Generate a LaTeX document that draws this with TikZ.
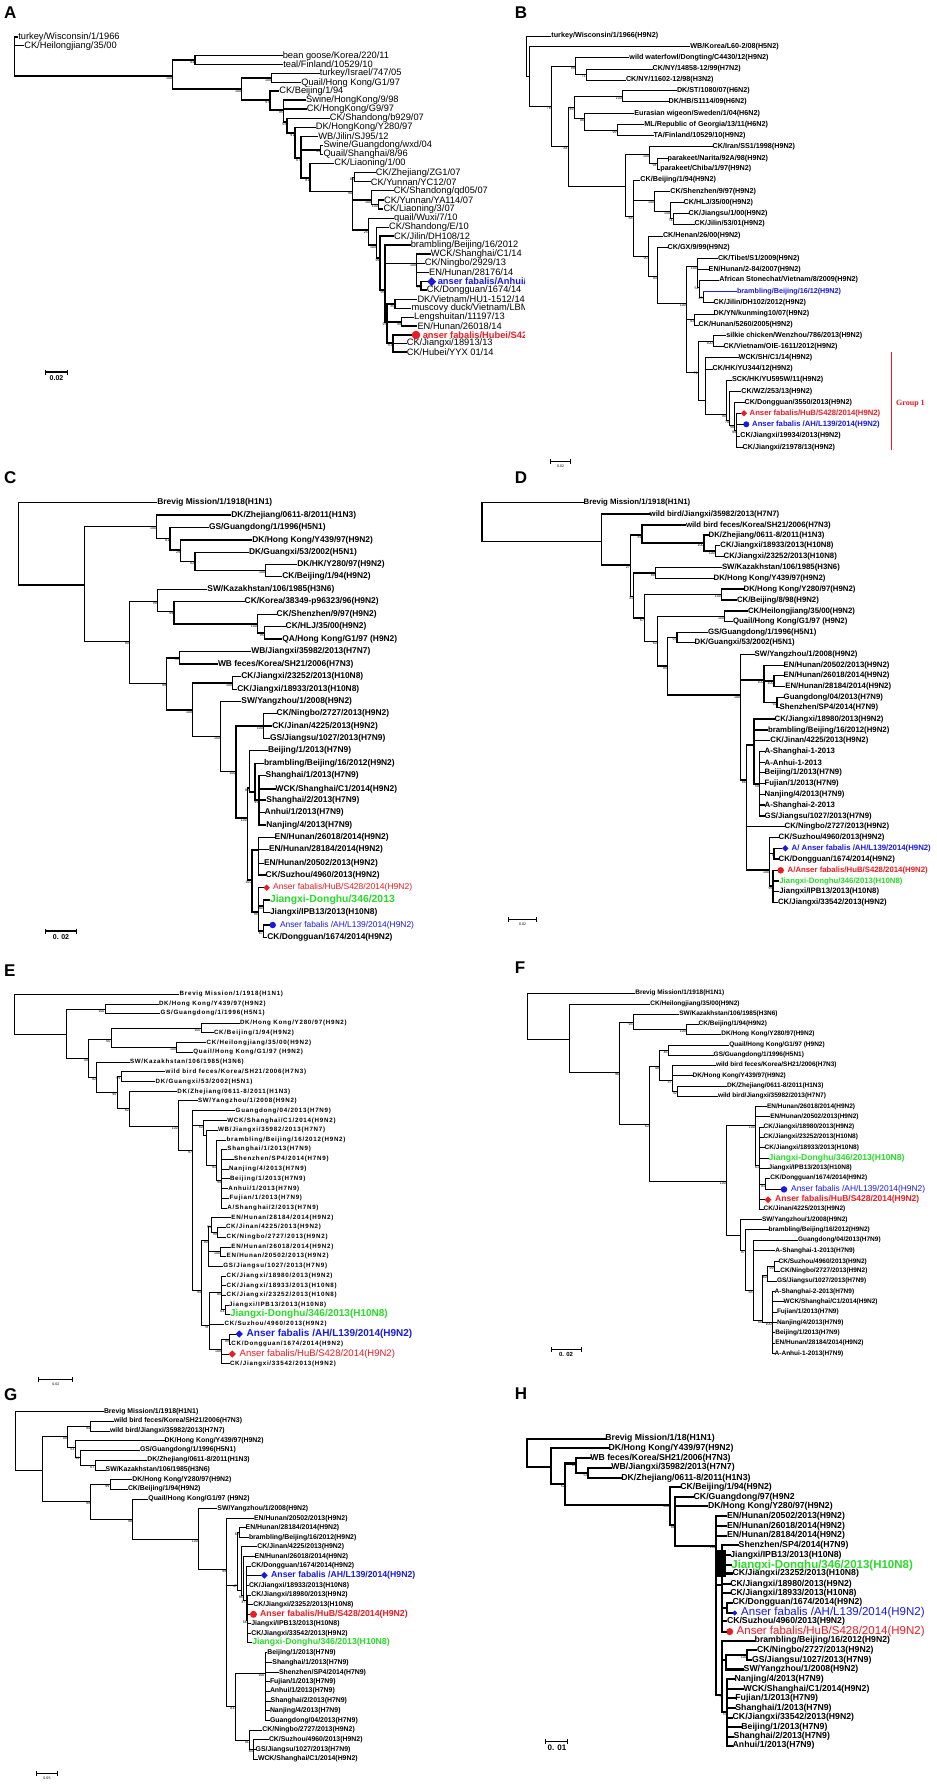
\documentclass[tikz,border=0pt]{standalone}
\usepackage{fontspec}
\setmainfont{Liberation Sans}
\newfontfamily\serifb{Liberation Serif}
\newfontfamily\spaced[LetterSpace=12]{Liberation Sans}
\usetikzlibrary{shapes.geometric,arrows.meta}
\definecolor{redA}{RGB}{236,28,36}
\definecolor{greenA}{RGB}{40,220,40}
\definecolor{blueA}{RGB}{26,26,230}
\newcommand\fs[1]{\fontsize{#1}{#1}\selectfont}
\newcommand\In[5]{\coordinate (#2) at (#3,#4); \draw[br] (#1) |- (#2); \node[bs] at (#2) {#5};}
\newcommand\Lf[6][]{\node[lab,#1] (#3) at (#4,#5) {#6}; \draw[br] (#2) |- (#3.west);}
\newcommand\Mk[8]{\node[#5] (#2m) at (#3,#4) {}; \node[lab,#7] (#2) at (#8,#4) {#6}; \draw[br] (#1) |- (#2m.west);}
\tikzset{
  bs/.style={font=\fs{3.6}, anchor=north east, inner sep=0.3pt},
  ttl/.style={font=\fs{17}\bfseries, anchor=north west, inner sep=0pt},
  mdia/.style={diamond, fill=#1, inner sep=0pt},
  mcirc/.style={circle, fill=#1, inner sep=0pt},
  sbar/.style={line width=1.1pt, {Bar[width=5pt,line width=1.1pt]}-{Bar[width=5pt,line width=1.1pt]}},
}
\begin{document}
\begin{tikzpicture}[x=1pt,y=-1pt]
\useasboundingbox (0,0) rectangle (937,1786);
\fill[white] (0,0) rectangle (937,1786);

% ================= A =================
\node[ttl] (labA) at (4,6.7) {A};
\begin{scope}[br/.style={line width=1.4pt, line cap=rect}, lab/.style={anchor=west, inner sep=0pt, inner xsep=0.6pt, font=\fs{9.3}}]
\clip (0,0) rectangle (524,365);
\coordinate (a0) at (14.3,56);
\Lf{a0}{aL1}{17.5}{37}{turkey/Wisconsin/1/1966}
\Lf{a0}{aL2}{23.5}{45.7}{CK/Heilongjiang/35/00}
\In{a0}{a1}{172.7}{76}{100}
\In{a1}{a2}{195}{60}{84}
\Lf{a2}{aL3}{282}{55.7}{bean goose/Korea/220/11}
\Lf{a2}{aL4}{282.5}{64.3}{teal/Finland/10529/10}
\In{a1}{a3}{241.7}{89}{100}
\In{a3}{a4}{271.7}{78}{100}
\Lf{a4}{aL5}{319}{73.3}{turkey/Israel/747/05}
\Lf{a4}{aL6}{300.5}{82.7}{Quail/Hong Kong/G1/97}
\In{a3}{a5}{270}{100}{97}
\Lf{a5}{aL7}{278.5}{91}{CK/Beijing/1/94}
\In{a5}{a6}{283.3}{110}{95}
\Lf{a6}{aL8}{305.3}{100}{Swine/HongKong/9/98}
\Lf{a6}{aL9}{306}{109}{CK/HongKong/G9/97}
\In{a6}{a7}{287}{122}{56}
\Lf{a7}{aL10}{329}{118.3}{CK/Shandong/b929/07}
\In{a7}{a8}{295}{133}{91}
\Lf{a8}{aL11}{315}{127.3}{DK/HongKong/Y280/97}
\In{a8}{a9}{301}{158}{67}
\Lf{a9}{aL12}{317.5}{136.3}{WB/Jilin/SJ95/12}
\In{a9}{a10}{320.7}{149.8}{99}
\Lf{a10}{aL13}{322.7}{145.3}{Swine/Guangdong/wxd/04}
\Lf{a10}{aL14}{322.7}{154.3}{Quail/Shanghai/8/96}
\In{a9}{a11}{310}{178}{81}
\Lf{a11}{aL15}{333.5}{163.3}{CK/Liaoning/1/00}
\In{a11}{a12}{352.7}{191.7}{90}
\In{a12}{a13}{354.5}{177.2}{85}
\Lf{a13}{aL16}{375}{172.7}{CK/Zhejiang/ZG1/07}
\Lf{a13}{aL17}{370}{181.7}{CK/Yunnan/YC12/07}
\In{a12}{a14}{371.7}{200}{100}
\Lf{a14}{aL18}{393}{190.7}{CK/Shandong/qd05/07}
\In{a14}{a15}{378.3}{204.5}{100}
\Lf{a15}{aL19}{383.3}{200}{CK/Yunnan/YA114/07}
\Lf{a15}{aL20}{382.7}{209}{CK/Liaoning/3/07}
\In{a12}{a16}{368.3}{230}{25}
\Lf{a16}{aL21}{393.3}{218.3}{quail/Wuxi/7/10}
\In{a16}{a17}{376.7}{245}{100}
\Lf{a17}{aL22}{388.3}{227.3}{CK/Shandong/E/10}
\In{a17}{a18}{380}{258}{99}
\Lf{a18}{aL23}{393.3}{236}{CK/Jilin/DH108/12}
\In{a18}{a19}{385}{290}{95}
\Lf{a19}{aL24}{410}{245}{brambling/Beijing/16/2012}
\In{a19}{a20}{416.7}{263.3}{100}
\Lf{a20}{aL25}{430}{254}{WCK/Shanghai/C1/14}
\Lf{a20}{aL26}{424}{263.3}{CK/Ningbo/2929/13}
\Lf{a20}{aL27}{428.3}{272.3}{EN/Hunan/28176/14}
\In{a20}{a21}{421}{286}{75}
\Mk{a21}{aL28}{431.7}{281.7}{mdia=blueA, minimum size=9pt}{anser fabalis/Anhui/L139/14}{text=blueA,font=\fs{9.3}\bfseries}{437}
\Lf{a21}{aL29}{426}{290}{CK/Dongguan/1674/14}
\In{a19}{a22}{387}{322}{97}
\In{a22}{a23}{395}{304}{85}
\Lf{a23}{aL30}{416.7}{299.3}{DK/Vietnam/HU1-1512/14}
\Lf{a23}{aL31}{410.7}{308.3}{muscovy duck/Vietnam/LBM113/14}
\In{a22}{a24}{401.7}{322}{99}
\Lf{a24}{aL32}{413.3}{317.3}{Lengshuitan/11197/13}
\Lf{a24}{aL33}{416.7}{326}{EN/Hunan/26018/14}
\In{a22}{a25}{393}{343}{61}
\Mk{a25}{aL34}{416}{335}{mcirc=redA, minimum size=8.5pt}{anser fabalis/Hubei/S428/14}{text=redA,font=\fs{9.3}\bfseries}{422}
\Lf{a25}{aL35}{406}{343.3}{CK/Jiangxi/18913/13}
\Lf{a25}{aL36}{406}{352}{CK/Hubei/YYX 01/14}
\end{scope}
\coordinate (sbA1) at (45,372); \coordinate (sbA2) at (68,372);
\draw[sbar] (sbA1) -- (sbA2);
\node[font=\fs{7}\bfseries, anchor=north, inner sep=0.5pt] (sbAt) at (56.5,375) {0.02};

% ================= B =================
\node[ttl] (labB) at (514.7,6.7) {B};
\begin{scope}[br/.style={line width=1pt, line cap=rect}, lab/.style={anchor=west, inner sep=0pt, inner xsep=0.5pt, font=\fs{7.2}\bfseries}]
\coordinate (b0) at (526.3,56);
\Lf{b0}{bL1}{550.7}{36}{turkey/Wisconsin/1/1966(H9N2)}
\In{b0}{b1}{529}{76.7}{}
\Lf{b1}{bL2}{689.7}{46.7}{WB/Korea/L60-2/08(H5N2)}
\In{b1}{b2}{551.3}{106.7}{78}
\In{b2}{b3}{575.3}{66}{99}
\Lf{b3}{bL3}{628.7}{57.7}{wild waterfowl/Dongting/C4430/12(H9N2)}
\In{b3}{b4}{586.3}{74.5}{71}
\Lf{b4}{bL4}{652}{69}{CK/NY/14858-12/99(H7N2)}
\Lf{b4}{bL5}{625.3}{80}{CK/NY/11602-12/98(H3N2)}
\In{b2}{b5}{568}{146.7}{84}
\In{b5}{b6}{574}{107.5}{49}
\In{b6}{b7}{622.3}{96.2}{100}
\Lf{b7}{bL6}{676.3}{90.7}{DK/ST/1080/07(H6N2)}
\Lf{b7}{bL7}{668}{101.7}{DK/HB/S1114/09(H6N2)}
\In{b6}{b8}{584.7}{118.3}{86}
\Lf{b8}{bL8}{633.7}{113.3}{Eurasian wigeon/Sweden/1/04(H6N2)}
\In{b8}{b9}{617}{130}{99}
\Lf{b9}{bL9}{643.7}{124.3}{ML/Republic of Georgia/13/11(H6N2)}
\Lf{b9}{bL10}{653}{135.7}{TA/Finland/10529/10(H9N2)}
\In{b5}{b10}{625.3}{186}{}
\In{b10}{b11}{649.7}{154.3}{100}
\Lf{b11}{bL11}{712}{146.7}{CK/Iran/SS1/1998(H9N2)}
\In{b11}{b12}{657}{163.6}{94}
\Lf{b12}{bL12}{667}{158.3}{parakeet/Narita/92A/98(H9N2)}
\Lf{b12}{bL13}{659.7}{169}{parakeet/Chiba/1/97(H9N2)}
\In{b10}{b13}{633}{216.7}{88}
\Lf{b13}{bL14}{639.7}{180}{CK/Beijing/1/94(H9N2)}
\In{b13}{b14}{654.7}{200.7}{100}
\Lf{b14}{bL15}{669.7}{191.7}{CK/Shenzhen/9/97(H9N2)}
\In{b14}{b15}{670.7}{211.7}{100}
\Lf{b15}{bL16}{683}{202.3}{CK/HLJ/35/00(H9N2)}
\In{b15}{b16}{673}{218.7}{74}
\Lf{b16}{bL17}{688}{213.3}{CK/Jiangsu/1/00(H9N2)}
\Lf{b16}{bL18}{694}{224}{CK/Jilin/53/01(H9N2)}
\In{b13}{b17}{648}{256}{90}
\Lf{b17}{bL19}{662.3}{236}{CK/Henan/26/00(H9N2)}
\In{b17}{b18}{657.3}{276}{94}
\Lf{b18}{bL20}{667}{247.3}{CK/GX/9/99(H9N2)}
\In{b18}{b19}{686.3}{303.3}{100}
\In{b19}{b20}{697.3}{266}{100}
\Lf{b20}{bL21}{717.3}{258.3}{CK/Tibet/S1/2009(H9N2)}
\Lf{b20}{bL22}{708}{269.3}{EN/Hunan/2-84/2007(H9N2)}
\In{b20}{b21}{699}{287}{51}
\Lf{b21}{bL23}{718.7}{280}{African Stonechat/Vietnam/8/2009(H9N2)}
\In{b21}{b22}{703}{297}{45}
\Lf[text=blueA]{b22}{bL24}{736.3}{291.7}{brambling/Beijing/16/12(H9N2)}
\draw[br,blueA] (b22 |- bL24.west) -- (bL24.west);
\Lf{b22}{bL25}{713}{302.3}{CK/Jilin/DH102/2012(H9N2)}
\In{b19}{b23}{694.7}{319.5}{93}
\Lf{b23}{bL26}{713}{314}{DK/YN/kunming10/07(H9N2)}
\Lf{b23}{bL27}{698}{325}{CK/Hunan/5260/2005(H9N2)}
\In{b19}{b24}{698}{372}{71}
\In{b24}{b25}{713}{341.2}{100}
\Lf{b25}{bL28}{725.7}{335.7}{silkie chicken/Wenzhou/786/2013(H9N2)}
\Lf{b25}{bL29}{723}{346.7}{CK/Vietnam/OIE-1611/2012(H9N2)}
\In{b24}{b26}{705}{400}{}
\Lf{b26}{bL30}{738}{357.7}{WCK/SH/C1/14(H9N2)}
\Lf{b26}{bL31}{712}{369}{CK/HK/YU344/12(H9N2)}
\In{b26}{b27}{726.3}{414}{90}
\Lf{b27}{bL32}{731.3}{380}{SCK/HK/YU595W/11(H9N2)}
\In{b27}{b28}{729.7}{420}{70}
\Lf{b28}{bL33}{740.7}{391.7}{CK/WZ/253/13(H9N2)}
\In{b28}{b29}{734.7}{425}{98}
\Lf{b29}{bL34}{744}{402.3}{CK/Dongguan/3550/2013(H9N2)}
\In{b29}{b30}{736.5}{430}{99}
\Mk{b30}{bL35}{744}{413.3}{mdia=redA, minimum size=6.5pt}{Anser fabalis/HuB/S428/2014(H9N2)}{text=redA,font=\fs{7.7}\bfseries}{749}
\Mk{b30}{bL36}{746.3}{424.3}{mcirc=blueA, minimum size=6pt}{Anser fabalis /AH/L139/2014(H9N2)}{text=blueA,font=\fs{7.7}\bfseries}{751.5}
\Lf{b30}{bL37}{739.7}{436}{CK/Jiangxi/19934/2013(H9N2)}
\Lf{b30}{bL38}{742}{447.3}{CK/Jiangxi/21978/13(H9N2)}
\end{scope}
\coordinate (grpA) at (891.3,352); \coordinate (grpB) at (891.3,450);
\draw[redA, line width=1pt] (grpA) -- (grpB);
\node[font=\serifb\fs{8}\bfseries, text=redA, anchor=west, inner sep=0pt] (grpT) at (896,403.3) {Group 1};
\coordinate (sbB1) at (549.7,461.7); \coordinate (sbB2) at (571.3,461.7);
\draw[sbar, line width=0.8pt] (sbB1) -- (sbB2);
\node[font=\fs{3.6}, anchor=north, inner sep=0.5pt] (sbBt) at (560.5,464.5) {0.02};

% ================= C =================
\node[ttl] (labC) at (4,471.7) {C};
\begin{scope}[br/.style={line width=1.3pt, line cap=rect}, lab/.style={anchor=west, inner sep=0pt, inner xsep=0.5pt, font=\fs{8.4}\bfseries}]
\coordinate (c0) at (18.3,540);
\Lf{c0}{cL1}{156.7}{502.7}{Brevig Mission/1/1918(H1N1)}
\In{c0}{c1}{84.3}{585}{}
\In{c1}{c2}{156.7}{526.7}{100}
\Lf{c2}{cL2}{230.7}{515}{DK/Zhejiang/0611-8/2011(H1N3)}
\In{c2}{c3}{170}{538.3}{61}
\Lf{c3}{cL3}{208.3}{527.3}{GS/Guangdong/1/1996(H5N1)}
\In{c3}{c4}{180.7}{550}{29}
\Lf{c4}{cL4}{251.7}{540}{DK/Hong Kong/Y439/97(H9N2)}
\In{c4}{c5}{195}{561.7}{62}
\Lf{c5}{cL5}{248.3}{552.3}{DK/Guangxi/53/2002(H5N1)}
\In{c5}{c6}{265.7}{570.5}{100}
\Lf{c6}{cL6}{296.7}{564.3}{DK/HK/Y280/97(H9N2)}
\Lf{c6}{cL7}{281.7}{576.7}{CK/Beijing/1/94(H9N2)}
\In{c1}{c7}{129.3}{641.7}{90}
\In{c7}{c8}{157.3}{601.7}{99}
\Lf{c8}{cL8}{206.7}{589.3}{SW/Kazakhstan/106/1985(H3N6)}
\In{c8}{c9}{174}{611.7}{99}
\Lf{c9}{cL9}{244}{601.7}{CK/Korea/38349-p96323/96(H9N2)}
\In{c9}{c10}{257.3}{624}{100}
\Lf{c10}{cL10}{276}{614.3}{CK/Shenzhen/9/97(H9N2)}
\In{c10}{c11}{264.3}{633}{95}
\Lf{c11}{cL11}{285}{626.7}{CK/HLJ/35/00(H9N2)}
\Lf{c11}{cL12}{281.7}{639}{QA/Hong Kong/G1/97 (H9N2)}
\In{c7}{c12}{166.7}{683.3}{99}
\In{c12}{c13}{179.3}{658}{55}
\Lf{c13}{cL13}{250.7}{651.7}{WB/Jiangxi/35982/2013(H7N7)}
\Lf{c13}{cL14}{217.3}{664}{WB feces/Korea/SH21/2006(H7N3)}
\In{c12}{c14}{192.7}{710}{100}
\In{c14}{c15}{232.7}{683}{100}
\Lf{c15}{cL15}{240.7}{676.7}{CK/Jiangxi/23252/2013(H10N8)}
\Lf{c15}{cL16}{236.7}{689.3}{CK/Jiangxi/18933/2013(H10N8)}
\In{c14}{c16}{220.7}{736.7}{100}
\Lf{c16}{cL17}{240.7}{701.7}{SW/Yangzhou/1/2008(H9N2)}
\In{c16}{c17}{236}{771.7}{100}
\In{c17}{c18}{263.3}{726}{100}
\Lf{c18}{cL18}{276}{713.3}{CK/Ningbo/2727/2013(H9N2)}
\Lf{c18}{cL19}{271.7}{726}{CK/Jinan/4225/2013(H9N2)}
\Lf{c18}{cL20}{269.3}{738.3}{GS/Jiangsu/1027/2013(H7N9)}
\In{c17}{c19}{247.3}{818}{100}
\In{c19}{c20}{249.3}{788}{90}
\Lf{c20}{cL21}{267.3}{750.7}{Beijing/1/2013(H7N9)}
\In{c20}{c21}{255}{792}{}
\Lf{c21}{cL22}{263.3}{763.3}{brambling/Beijing/16/2012(H9N2)}
\In{c21}{c22}{259}{800}{99}
\Lf{c22}{cL23}{265}{775.7}{Shanghai/1/2013(H7N9)}
\Lf{c22}{cL24}{275}{789}{WCK/Shanghai/C1/2014(H9N2)}
\Lf{c22}{cL25}{265.7}{800}{Shanghai/2/2013(H7N9)}
\Lf{c22}{cL26}{264}{812.3}{Anhui/1/2013(H7N9)}
\Lf{c22}{cL27}{265.7}{825}{Nanjing/4/2013(H7N9)}
\In{c19}{c23}{252}{880}{100}
\In{c23}{c24}{258.3}{850}{}
\Lf{c24}{cL28}{274}{837.3}{EN/Hunan/26018/2014(H9N2)}
\Lf{c24}{cL29}{268.3}{849.3}{EN/Hunan/28184/2014(H9N2)}
\Lf{c24}{cL30}{263.3}{863.3}{EN/Hunan/20502/2013(H9N2)}
\Lf{c24}{cL31}{265}{875}{CK/Suzhou/4960/2013(H9N2)}
\In{c23}{c25}{258.3}{912}{95}
\Mk{c25}{cL32}{266.7}{887.7}{mdia=redA, minimum size=6.5pt}{Anser fabalis/HuB/S428/2014(H9N2)}{text=redA,font=\fs{8.5}}{272.5}
\In{c25}{c26}{263.3}{906}{80}
\Lf[text=greenA,font=\fs{10.4}\bfseries]{c26}{cL33}{269.3}{900}{Jiangxi-Donghu/346/2013}
\Lf{c26}{cL34}{269.3}{912.3}{Jiangxi/IPB13/2013(H10N8)}
\In{c25}{c27}{263.3}{931}{67}
\Mk{c27}{cL35}{272.7}{925}{mcirc=blueA, minimum size=6.5pt}{Anser fabalis /AH/L139/2014(H9N2)}{text=blueA,font=\fs{8.4}}{279.3}
\Lf{c27}{cL36}{266.7}{937.7}{CK/Dongguan/1674/2014(H9N2)}
\end{scope}
\coordinate (sbC1) at (45,931); \coordinate (sbC2) at (76.7,931);
\draw[sbar] (sbC1) -- (sbC2);
\node[font=\fs{7}\bfseries, anchor=north, inner sep=0.5pt] (sbCt) at (61,934) {0. 02};

% ================= D =================
\node[ttl] (labD) at (514.7,471.7) {D};
\begin{scope}[br/.style={line width=1.2pt, line cap=rect}, lab/.style={anchor=west, inner sep=0pt, inner xsep=0.5pt, font=\fs{7.8}\bfseries}]
\coordinate (d0) at (482,520);
\Lf{d0}{dL1}{583}{502.7}{Brevig Mission/1/1918(H1N1)}
\In{d0}{d1}{601.3}{541.7}{}
\Lf{d1}{dL2}{649}{514}{wild bird/Jiangxi/35982/2013(H7N7)}
\In{d1}{d2}{630.3}{565}{27}
\In{d2}{d3}{642}{535}{81}
\Lf{d3}{dL3}{685.3}{525}{wild bird feces/Korea/SH21/2006(H7N3)}
\In{d3}{d4}{704}{543}{100}
\Lf{d4}{dL4}{708}{535}{DK/Zhejiang/0611-8/2011(H1N3)}
\In{d4}{d5}{715.3}{551}{100}
\Lf{d5}{dL5}{719.7}{545.7}{CK/Jiangxi/18933/2013(H10N8)}
\Lf{d5}{dL6}{723}{556.7}{CK/Jiangxi/23252/2013(H10N8)}
\In{d2}{d6}{633.7}{596.7}{31}
\In{d6}{d7}{655.3}{573}{89}
\Lf{d7}{dL7}{721.3}{567.3}{SW/Kazakhstan/106/1985(H3N6)}
\Lf{d7}{dL8}{713}{578.3}{DK/Hong Kong/Y439/97(H9N2)}
\In{d6}{d8}{644.7}{618}{67}
\In{d8}{d9}{721.3}{594.5}{100}
\Lf{d9}{dL9}{743}{589}{DK/Hong Kong/Y280/97(H9N2)}
\Lf{d9}{dL10}{736.3}{600}{CK/Beijing/8/98(H9N2)}
\In{d8}{d10}{657.3}{641.7}{60}
\In{d10}{d11}{724.7}{616.3}{100}
\Lf{d11}{dL11}{747.3}{611}{CK/Heilongjiang/35/00(H9N2)}
\Lf{d11}{dL12}{732.3}{621.7}{Quail/Hong Kong/G1/97 (H9N2)}
\In{d10}{d12}{667.3}{666}{94}
\In{d12}{d13}{677}{637.5}{97}
\Lf{d13}{dL13}{707.3}{632.3}{GS/Guangdong/1/1996(H5N1)}
\Lf{d13}{dL14}{694}{642.7}{DK/Guangxi/53/2002(H5N1)}
\In{d12}{d14}{740.7}{695}{100}
\Lf{d14}{dL15}{754}{654.3}{SW/Yangzhou/1/2008(H9N2)}
\In{d14}{d15}{764}{680}{100}
\Lf{d15}{dL16}{783}{665.3}{EN/Hunan/20502/2013(H9N2)}
\In{d15}{d16}{774}{681}{100}
\Lf{d16}{dL17}{783}{675.7}{EN/Hunan/26018/2014(H9N2)}
\Lf{d16}{dL18}{784.7}{686.7}{EN/Hunan/28184/2014(H9N2)}
\In{d15}{d17}{777}{702.5}{92}
\Lf{d17}{dL19}{783}{697.3}{Guangdong/04/2013(H7N9)}
\Lf{d17}{dL20}{779}{707.7}{Shenzhen/SP4/2014(H7N9)}
\In{d14}{d18}{746.3}{780}{86}
\In{d18}{d19}{754}{745}{}
\Lf{d19}{dL21}{774}{719}{CK/Jiangxi/18980/2013(H9N2)}
\Lf{d19}{dL22}{767.3}{730}{brambling/Beijing/16/2012(H9N2)}
\Lf{d19}{dL23}{769.7}{740.7}{CK/Jinan/4225/2013(H9N2)}
\In{d19}{d20}{759.7}{784}{50}
\Lf{d20}{dL24}{764}{751.7}{A-Shanghai-1-2013}
\Lf{d20}{dL25}{764}{762.3}{A-Anhui-1-2013}
\Lf{d20}{dL26}{764}{772.7}{Beijing/1/2013(H7N9)}
\Lf{d20}{dL27}{764}{783.3}{Fujian/1/2013(H7N9)}
\Lf{d20}{dL28}{764}{794.3}{Nanjing/4/2013(H7N9)}
\Lf{d20}{dL29}{764}{805}{A-Shanghai-2-2013}
\Lf{d20}{dL30}{764}{816}{GS/Jiangsu/1027/2013(H7N9)}
\Lf{d18}{dL31}{784}{826.7}{CK/Ningbo/2727/2013(H9N2)}
\In{d18}{d21}{769.7}{870}{100}
\Lf{d21}{dL32}{778}{837.7}{CK/Suzhou/4960/2013(H9N2)}
\In{d21}{d22}{774}{853.7}{7}
\Mk{d22}{dL33}{785.3}{848.3}{mdia=blueA, minimum size=6.5pt}{A/ Anser fabalis /AH/L139/2014(H9N2)}{text=blueA}{791}
\Lf{d22}{dL34}{778}{859}{CK/Dongguan/1674/2014(H9N2)}
\In{d21}{d23}{773}{886}{95}
\Mk{d23}{dL35}{780.7}{870.3}{mcirc=redA, minimum size=6.5pt}{A/Anser fabalis/HuB/S428/2014(H9N2)}{text=redA}{787}
\Lf[text=greenA]{d23}{dL36}{778.7}{881}{Jiangxi-Donghu/346/2013(H10N8)}
\Lf{d23}{dL37}{778.7}{891.7}{Jiangxi/IPB13/2013(H10N8)}
\Lf{d23}{dL38}{777.3}{902.3}{CK/Jiangxi/33542/2013(H9N2)}
\end{scope}
\coordinate (sbD1) at (508,919.3); \coordinate (sbD2) at (537.3,919.3);
\draw[sbar, line width=0.8pt] (sbD1) -- (sbD2);
\node[font=\fs{3.6}, anchor=north, inner sep=0.5pt] (sbDt) at (522.7,922) {0.02};

% ================= E =================
\node[ttl] (labE) at (4,965) {E};
\begin{scope}[br/.style={line width=0.9pt, line cap=rect}, lab/.style={anchor=west, inner sep=0pt, inner xsep=0.5pt, font=\spaced\fs{6.2}\bfseries}]
\coordinate (e0) at (14.3,1014);
\Lf{e0}{eL1}{179}{994}{Brevig Mission/1/1918(H1N1)}
\In{e0}{e1}{66.7}{1034}{}
\In{e1}{e2}{105}{1009.3}{100}
\Lf{e2}{eL2}{158.3}{1004}{DK/Hong Kong/Y439/97(H9N2)}
\Lf{e2}{eL3}{160}{1013.3}{GS/Guangdong/1/1996(H5N1)}
\In{e1}{e3}{88.3}{1058.3}{49}
\In{e3}{e4}{111}{1039}{60}
\In{e4}{e5}{201}{1028}{100}
\Lf{e5}{eL4}{239.3}{1023.3}{DK/Hong Kong/Y280/97(H9N2)}
\Lf{e5}{eL5}{213.3}{1032.7}{CK/Beijing/1/94(H9N2)}
\In{e4}{e6}{176.7}{1047.5}{100}
\Lf{e6}{eL6}{206}{1042.7}{CK/Heilongjiang/35/00(H9N2)}
\Lf{e6}{eL7}{192.7}{1052.3}{Quail/Hong Kong/G1/97 (H9N2)}
\In{e3}{e7}{96.7}{1077.3}{82}
\Lf{e7}{eL8}{129.3}{1062}{SW/Kazakhstan/106/1985(H3N6)}
\In{e7}{e8}{117}{1092}{90}
\In{e8}{e9}{121}{1076.7}{99}
\Lf{e9}{eL9}{165}{1071.7}{wild bird feces/Korea/SH21/2006(H7N3)}
\Lf{e9}{eL10}{155}{1081.7}{DK/Guangxi/53/2002(H5N1)}
\In{e8}{e10}{129.3}{1108.3}{82}
\Lf{e10}{eL11}{176.7}{1091.7}{DK/Zhejiang/0611-8/2011(H1N3)}
\In{e10}{e11}{178.3}{1126}{100}
\Lf{e11}{eL12}{197.3}{1100.7}{SW/Yangzhou/1/2008(H9N2)}
\In{e11}{e12}{192.7}{1150}{97}
\Lf{e12}{eL13}{235}{1110.7}{Guangdong/04/2013(H7N9)}
\In{e12}{e13}{203.3}{1125}{60}
\Lf{e13}{eL14}{226.7}{1120.7}{WCK/Shanghai/C1/2014(H9N2)}
\In{e13}{e14}{206.7}{1135}{}
\Lf{e14}{eL15}{217.3}{1130.3}{WB/Jiangxi/35982/2013(H7N7)}
\In{e14}{e15}{216.7}{1165}{91}
\Lf{e15}{eL16}{226}{1140}{brambling/Beijing/16/2012(H9N2)}
\In{e15}{e16}{221.7}{1180}{99}
\Lf{e16}{eL17}{226.7}{1149.3}{Shanghai/1/2013(H7N9)}
\Lf{e16}{eL18}{233.3}{1159.3}{Shenzhen/SP4/2014(H7N9)}
\Lf{e16}{eL19}{228.3}{1169.3}{Nanjing/4/2013(H7N9)}
\Lf{e16}{eL20}{229.3}{1178.7}{Beijing/1/2013(H7N9)}
\Lf{e16}{eL21}{227.7}{1188.7}{Anhui/1/2013(H7N9)}
\Lf{e16}{eL22}{229}{1198.3}{Fujian/1/2013(H7N9)}
\Lf{e16}{eL23}{226.7}{1208.3}{A/Shanghai/2/2013(H7N9)}
\In{e12}{e17}{201.7}{1290}{94}
\In{e17}{e18}{208.3}{1240}{90}
\In{e18}{e19}{211.7}{1226}{51}
\Lf{e19}{eL24}{230.7}{1217.7}{EN/Hunan/28184/2014(H9N2)}
\In{e19}{e20}{217.3}{1232.3}{99}
\Lf{e20}{eL25}{225.3}{1227.3}{CK/Jinan/4225/2013(H9N2)}
\Lf{e20}{eL26}{226}{1237.3}{CK/Ningbo/2727/2013(H9N2)}
\In{e18}{e21}{220.7}{1251.7}{100}
\Lf{e21}{eL27}{230.7}{1247}{EN/Hunan/26018/2014(H9N2)}
\Lf{e21}{eL28}{226}{1256.3}{EN/Hunan/20502/2013(H9N2)}
\Lf{e18}{eL29}{222.7}{1266}{GS/Jiangsu/1027/2013(H7N9)}
\In{e17}{e22}{209}{1325}{78}
\In{e22}{e23}{221.7}{1292}{86}
\Lf{e23}{eL30}{226}{1276}{CK/Jiangxi/18980/2013(H9N2)}
\Lf{e23}{eL31}{226}{1285.7}{CK/Jiangxi/18933/2013(H10N8)}
\Lf{e23}{eL32}{226}{1295.3}{CK/Jiangxi/23252/2013(H10N8)}
\In{e23}{e24}{225}{1309.7}{64}
\Lf{e24}{eL33}{228.3}{1305}{Jiangxi/IPB13/2013(H10N8)}
\Lf[text=greenA,font=\fs{10}\bfseries]{e24}{eL34}{229.3}{1314.3}{Jiangxi-Donghu/346/2013(H10N8)}
\Lf{e22}{eL35}{224}{1324.3}{CK/Suzhou/4960/2013(H9N2)}
\In{e22}{e25}{221.7}{1349}{100}
\In{e25}{e26}{229.3}{1339}{99}
\Mk{e26}{eL36}{239.3}{1334}{mdia=blueA, minimum size=7.5pt}{Anser fabalis /AH/L139/2014(H9N2)}{text=blueA,font=\fs{10}\bfseries}{246}
\Lf{e26}{eL37}{230.7}{1344}{CK/Dongguan/1674/2014(H9N2)}
\Mk{e25}{eL38}{232.3}{1354}{mdia=redA, minimum size=7.5pt}{Anser fabalis/HuB/S428/2014(H9N2)}{text=redA,font=\fs{9.5}}{239}
\Lf{e25}{eL39}{229.3}{1363.7}{CK/Jiangxi/33542/2013(H9N2)}
\end{scope}
\coordinate (sbE1) at (38.3,1379.3); \coordinate (sbE2) at (73.3,1379.3);
\draw[sbar, line width=0.8pt] (sbE1) -- (sbE2);
\node[font=\fs{3.6}, anchor=north, inner sep=0.5pt] (sbEt) at (55.8,1382) {0.02};

% ================= F =================
\node[ttl] (labF) at (514.7,961.7) {F};
\begin{scope}[br/.style={line width=1pt, line cap=rect}, lab/.style={anchor=west, inner sep=0pt, inner xsep=0.5pt, font=\fs{6.5}\bfseries}]
\coordinate (f0) at (527.3,1016);
\Lf{f0}{fL1}{634.7}{993.3}{Brevig Mission/1/1918(H1N1)}
\In{f0}{f1}{569}{1039}{}
\Lf{f1}{fL2}{649.7}{1004}{CK/Heilongjiang/35/00(H9N2)}
\In{f1}{f2}{619.7}{1072.3}{96}
\In{f2}{f3}{633}{1022.3}{93}
\Lf{f3}{fL3}{678.7}{1014.3}{SW/Kazakhstan/106/1985(H3N6)}
\In{f3}{f4}{686.3}{1029.3}{100}
\Lf{f4}{fL4}{698}{1024.3}{CK/Beijing/1/94(H9N2)}
\Lf{f4}{fL5}{720.7}{1034.3}{DK/Hong Kong/Y280/97(H9N2)}
\In{f2}{f5}{649.7}{1124}{62}
\In{f5}{f6}{659.7}{1066}{48}
\In{f6}{f7}{668}{1050}{46}
\Lf{f7}{fL6}{728.7}{1045}{Quail/Hong Kong/G1/97 (H9N2)}
\Lf{f7}{fL7}{713}{1055}{GS/Guangdong/1/1996(H5N1)}
\In{f6}{f8}{672}{1080}{37}
\Lf{f8}{fL8}{715.3}{1065}{wild bird feces/Korea/SH21/2006(H7N3)}
\Lf{f8}{fL9}{692}{1075.7}{DK/Hong Kong/Y439/97(H9N2)}
\In{f8}{f9}{677.3}{1091}{42}
\Lf{f9}{fL10}{726.3}{1086}{DK/Zhejiang/0611-8/2011(H1N3)}
\Lf{f9}{fL11}{717.3}{1096}{wild bird/Jiangxi/35982/2013(H7N7)}
\In{f5}{f10}{726.3}{1181.2}{100}
\In{f10}{f11}{755.3}{1125.7}{100}
\Lf{f11}{fL12}{766.3}{1106.7}{EN/Hunan/26018/2014(H9N2)}
\Lf{f11}{fL13}{769.7}{1116.7}{EN/Hunan/20502/2013(H9N2)}
\In{f11}{f12}{759.7}{1165}{61}
\Lf{f12}{fL14}{763}{1127.3}{CK/Jiangxi/18980/2013(H9N2)}
\Lf{f12}{fL15}{763}{1137.3}{CK/Jiangxi/23252/2013(H10N8)}
\Lf{f12}{fL16}{764}{1147.7}{CK/Jiangxi/18933/2013(H10N8)}
\Lf[text=greenA,font=\fs{8.6}\bfseries]{f12}{fL17}{768}{1158.5}{Jiangxi-Donghu/346/2013(H10N8)}
\Lf{f12}{fL18}{768}{1168}{Jiangxi/IPB13/2013(H10N8)}
\In{f12}{f13}{765.7}{1184}{81}
\Lf{f13}{fL19}{769.7}{1178.3}{CK/Dongguan/1674/2014(H9N2)}
\Mk{f13}{fL20}{784}{1189.4}{mcirc=blueA, minimum size=6.5pt}{Anser fabalis /AH/L139/2014(H9N2)}{text=blueA,font=\fs{8.4}}{790.5}
\Mk{f12}{fL21}{768}{1199.7}{mdia=redA, minimum size=7pt}{Anser fabalis/HuB/S428/2014(H9N2)}{text=redA,font=\fs{8.5}\bfseries}{774.5}
\Lf{f12}{fL22}{763}{1209.2}{CK/Jinan/4225/2013(H9N2)}
\In{f10}{f14}{740.7}{1235.6}{}
\Lf{f14}{fL23}{761.3}{1219.5}{SW/Yangzhou/1/2008(H9N2)}
\In{f14}{f15}{745.3}{1250}{97}
\Lf{f15}{fL24}{768}{1229.8}{brambling/Beijing/16/2012(H9N2)}
\In{f15}{f16}{753}{1290}{68}
\Lf{f16}{fL25}{797.3}{1240.1}{Guangdong/04/2013(H7N9)}
\Lf{f16}{fL26}{774.7}{1250.4}{A-Shanghai-1-2013(H7N9)}
\In{f16}{f17}{762.7}{1320}{66}
\In{f17}{f18}{767.3}{1275}{60}
\In{f18}{f19}{774}{1266.3}{99}
\Lf{f19}{fL27}{778}{1261.5}{CK/Suzhou/4960/2013(H9N2)}
\Lf{f19}{fL28}{779.7}{1271}{CK/Ningbo/2727/2013(H9N2)}
\Lf{f18}{fL29}{776.3}{1281.3}{GS/Jiangsu/1027/2013(H7N9)}
\In{f17}{f20}{772}{1322}{100}
\Lf{f20}{fL30}{774}{1291.6}{A-Shanghai-2-2013(H7N9)}
\Lf{f20}{fL31}{783}{1301.9}{WCK/Shanghai/C1/2014(H9N2)}
\Lf{f20}{fL32}{776.3}{1312.2}{Fujian/1/2013(H7N9)}
\Lf{f20}{fL33}{776.3}{1322.5}{Nanjing/4/2013(H7N9)}
\Lf{f20}{fL34}{774.7}{1332.8}{Beijing/1/2013(H7N9)}
\Lf{f20}{fL35}{774.7}{1343.1}{EN/Hunan/28184/2014(H9N2)}
\Lf{f20}{fL36}{774}{1353.4}{A-Anhui-1-2013(H7N9)}
\end{scope}
\coordinate (sbF1) at (550.7,1349.3); \coordinate (sbF2) at (582,1349.3);
\draw[sbar] (sbF1) -- (sbF2);
\node[font=\fs{6}\bfseries, anchor=north, inner sep=0.5pt] (sbFt) at (566,1352) {0. 02};

% ================= G =================
\node[ttl] (labG) at (4,1388.3) {G};
\begin{scope}[br/.style={line width=1pt, line cap=rect}, lab/.style={anchor=west, inner sep=0pt, inner xsep=0.5pt, font=\fs{6.9}\bfseries}]
\coordinate (g0) at (15,1440);
\Lf{g0}{gL1}{103.3}{1411.7}{Brevig Mission/1/1918(H1N1)}
\In{g0}{g1}{42.7}{1470}{}
\In{g1}{g2}{67.7}{1436}{88}
\In{g2}{g3}{90.7}{1426}{94}
\Lf{g3}{gL2}{113.3}{1421}{wild bird feces/Korea/SH21/2006(H7N3)}
\Lf{g3}{gL3}{109.3}{1431}{wild bird/Jiangxi/35982/2013(H7N7)}
\In{g2}{g4}{75}{1447}{53}
\Lf{g4}{gL4}{164}{1440.7}{DK/Hong Kong/Y439/97(H9N2)}
\In{g4}{g5}{80}{1457}{54}
\Lf{g5}{gL5}{139.3}{1450}{GS/Guangdong/1/1996(H5N1)}
\In{g5}{g6}{95}{1465}{67}
\Lf{g6}{gL6}{146.7}{1460}{DK/Zhejiang/0611-8/2011(H1N3)}
\Lf{g6}{gL7}{105}{1470}{SW/Kazakhstan/106/1985(H3N6)}
\In{g1}{g7}{90.7}{1501.7}{99}
\In{g7}{g8}{110}{1484}{99}
\Lf{g8}{gL8}{131.7}{1479.3}{DK/Hong Kong/Y280/97(H9N2)}
\Lf{g8}{gL9}{127.3}{1489}{CK/Beijing/1/94(H9N2)}
\In{g7}{g9}{132.7}{1519}{98}
\Lf{g9}{gL10}{147.7}{1499}{Quail/Hong Kong/G1/97 (H9N2)}
\In{g9}{g10}{198.3}{1539}{100}
\Lf{g10}{gL11}{216.7}{1508.3}{SW/Yangzhou/1/2008(H9N2)}
\In{g10}{g11}{226.7}{1569}{99}
\Lf{g11}{gL12}{253.3}{1518.3}{EN/Hunan/20502/2013(H9N2)}
\In{g11}{g12}{237.3}{1585}{47}
\In{g12}{g13}{239.3}{1532.5}{63}
\Lf{g13}{gL13}{245}{1527.7}{EN/Hunan/28184/2014(H9N2)}
\Lf{g13}{gL14}{248.3}{1537.3}{brambling/Beijing/16/2012(H9N2)}
\In{g12}{g14}{241}{1590}{}
\Lf{g14}{gL15}{256.7}{1546.7}{CK/Jinan/4225/2013(H9N2)}
\In{g14}{g15}{243.3}{1595}{98}
\Lf{g15}{gL16}{254}{1556.3}{EN/Hunan/26018/2014(H9N2)}
\In{g15}{g16}{246}{1600}{37}
\Lf{g16}{gL17}{250.7}{1566}{CK/Dongguan/1674/2014(H9N2)}
\Mk{g16}{gL18}{264.3}{1575.3}{mdia=blueA, minimum size=7pt}{Anser fabalis /AH/L139/2014(H9N2)}{text=blueA,font=\fs{8.7}\bfseries}{270.5}
\Lf{g16}{gL19}{248.3}{1585.3}{CK/Jiangxi/18933/2013(H10N8)}
\In{g16}{g17}{247.3}{1620}{56}
\Lf{g17}{gL20}{250.7}{1595}{CK/Jiangxi/18980/2013(H9N2)}
\Lf{g17}{gL21}{252.7}{1604.7}{CK/Jiangxi/23252/2013(H10N8)}
\Mk{g17}{gL22}{253.5}{1614.3}{mcirc=redA, minimum size=7pt}{Anser fabalis/HuB/S428/2014(H9N2)}{text=redA,font=\fs{8.7}\bfseries}{259.5}
\Lf{g17}{gL23}{250.7}{1623.7}{Jiangxi/IPB13/2013(H10N8)}
\Lf{g17}{gL24}{250.7}{1633.3}{CK/Jiangxi/33542/2013(H9N2)}
\Lf[text=greenA,font=\fs{8.7}\bfseries]{g17}{gL25}{251.7}{1642.7}{Jiangxi-Donghu/346/2013(H10N8)}
\In{g11}{g18}{235}{1706.7}{84}
\In{g18}{g19}{265}{1673.3}{100}
\Lf{g19}{gL26}{266.7}{1652.7}{Beijing/1/2013(H7N9)}
\Lf{g19}{gL27}{271.7}{1662.3}{Shanghai/1/2013(H7N9)}
\Lf{g19}{gL28}{278.3}{1672.3}{Shenzhen/SP4/2014(H7N9)}
\Lf{g19}{gL29}{269.3}{1681.7}{Fujian/1/2013(H7N9)}
\Lf{g19}{gL30}{269.3}{1691}{Anhui/1/2013(H7N9)}
\Lf{g19}{gL31}{270}{1701}{Shanghai/2/2013(H7N9)}
\Lf{g19}{gL32}{269.3}{1710.7}{Nanjing/4/2013(H7N9)}
\Lf{g19}{gL33}{269.3}{1720.3}{Guangdong/04/2013(H7N9)}
\In{g18}{g20}{249.3}{1740}{91}
\Lf{g20}{gL34}{261.7}{1730}{CK/Ningbo/2727/2013(H9N2)}
\In{g20}{g21}{253.3}{1749}{84}
\Lf{g21}{gL35}{268.3}{1739.3}{CK/Suzhou/4960/2013(H9N2)}
\Lf{g21}{gL36}{255}{1749.3}{GS/Jiangsu/1027/2013(H7N9)}
\Lf{g21}{gL37}{257.3}{1759}{WCK/Shanghai/C1/2014(H9N2)}
\end{scope}
\coordinate (sbG1) at (36,1773.3); \coordinate (sbG2) at (58.3,1773.3);
\draw[sbar, line width=0.8pt] (sbG1) -- (sbG2);
\node[font=\fs{3.6}, anchor=north, inner sep=0.5pt] (sbGt) at (47,1776) {0.05};

% ================= H =================
\node[ttl] (labH) at (514.7,1387.2) {H};
\begin{scope}[br/.style={line width=2.2pt, line cap=rect}, lab/.style={anchor=west, inner sep=0pt, inner xsep=0.5pt, font=\fs{8.7}\bfseries}]
\coordinate (h0) at (527.3,1452);
\Lf{h0}{hL1}{604.7}{1438.7}{Brevig Mission/1/18(H1N1)}
\In{h0}{h1}{551.3}{1466.7}{}
\Lf{h1}{hL2}{608}{1448.2}{DK/Hong Kong/Y439/97(H9N2)}
\In{h1}{h2}{565.3}{1484}{52}
\In{h2}{h3}{576.3}{1463.4}{64}
\Lf{h3}{hL3}{589.7}{1458.1}{WB feces/Korea/SH21/2006(H7N3)}
\In{h3}{h4}{588}{1473}{53}
\Lf{h4}{hL4}{610.7}{1467.6}{WB/Jiangxi/35982/2013(H7N7)}
\Lf{h4}{hL5}{620.7}{1477.9}{DK/Zhejiang/0611-8/2011(H1N3)}
\In{h2}{h5}{669.7}{1504.6}{100}
\Lf{h5}{hL6}{679.7}{1487.3}{CK/Beijing/1/94(H9N2)}
\In{h5}{h6}{675.3}{1525.3}{86}
\Lf{h6}{hL7}{693}{1496.8}{CK/Guangdong/97(H9N2}
\Lf{h6}{hL8}{707.3}{1505.9}{DK/Hong Kong/Y280/97(H9N2)}
\In{h6}{h7}{716.3}{1545.9}{100}
\Lf{h7}{hL9}{726.3}{1516.2}{EN/Hunan/20502/2013(H9N2)}
\Lf{h7}{hL10}{726.3}{1526.1}{EN/Hunan/26018/2014(H9N2)}
\Lf{h7}{hL11}{726.3}{1535.6}{EN/Hunan/28184/2014(H9N2)}
\In{h7}{h8}{722}{1585}{}
\Lf{h8}{hL12}{738}{1545}{Shenzhen/SP4/2014(H7N9)}
\Lf{h8}{hL13}{729.7}{1554.9}{Jiangxi/IPB13/2013(H10N8)}
\Lf[text=greenA,font=\fs{11.5}\bfseries]{h8}{hL14}{730.7}{1565.2}{Jiangxi-Donghu/346/2013(H10N8)}
\Lf{h8}{hL15}{732}{1573.5}{CK/Jiangxi/23252/2013(H10N8)}
\Lf{h8}{hL16}{729.7}{1583.8}{CK/Jiangxi/18980/2013(H9N2)}
\Lf{h8}{hL17}{729.7}{1593.2}{CK/Jiangxi/18933/2013(H10N8)}
\In{h8}{h9}{727.3}{1608}{}
\Lf{h9}{hL18}{732}{1602.7}{CK/Dongguan/1674/2014(H9N2)}
\Mk{h9}{hL19}{734.7}{1613}{mdia=blueA, minimum size=5.5pt}{Anser fabalis /AH/L139/2014(H9N2)}{text=blueA,font=\fs{11.5}}{740.5}
\Lf{h8}{hL20}{726.3}{1621.3}{CK/Suzhou/4960/2013(H9N2)}
\Mk{h8}{hL21}{729.7}{1631.6}{mcirc=redA, minimum size=7pt}{Anser fabalis/HuB/S428/2014(H9N2)}{text=redA,font=\fs{11.5}}{736}
\In{h7}{h10}{722}{1695}{5}
\Lf{h10}{hL22}{754}{1640.6}{brambling/Beijing/16/2012(H9N2)}
\In{h10}{h11}{726.3}{1660}{}
\In{h11}{h12}{747.3}{1655}{100}
\Lf{h12}{hL23}{756.3}{1650.1}{CK/Ningbo/2727/2013(H9N2)}
\Lf{h12}{hL24}{751.3}{1660}{GS/Jiangsu/1027/2013(H7N9)}
\Lf{h11}{hL25}{743}{1669.5}{SW/Yangzhou/1/2008(H9N2)}
\In{h10}{h13}{727.3}{1712}{53}
\Lf{h13}{hL26}{734}{1678.9}{Nanjing/4/2013(H7N9)}
\Lf{h13}{hL27}{743}{1688.8}{WCK/Shanghai/C1/2014(H9N2)}
\Lf{h13}{hL28}{734.7}{1698.3}{Fujian/1/2013(H7N9)}
\Lf{h13}{hL29}{734.7}{1707.8}{Shanghai/1/2013(H7N9)}
\Lf{h13}{hL30}{732}{1717.7}{CK/Jiangxi/33542/2013(H9N2)}
\Lf{h13}{hL31}{740.7}{1727.1}{Beijing/1/2013(H7N9)}
\Lf{h13}{hL32}{733}{1736.6}{Shanghai/2/2013(H7N9)}
\Lf{h13}{hL33}{732}{1745.7}{Anhui/1/2013(H7N9)}
\fill (716.3,1550) rectangle (726.3,1577);
\end{scope}
\coordinate (sbH1) at (545.3,1741.6); \coordinate (sbH2) at (568,1741.6);
\draw[sbar, line width=1.6pt] (sbH1) -- (sbH2);
\node[font=\fs{8}\bfseries, anchor=north, inner sep=0.5pt] (sbHt) at (557,1744.5) {0. 01};
\end{tikzpicture}
\end{document}
